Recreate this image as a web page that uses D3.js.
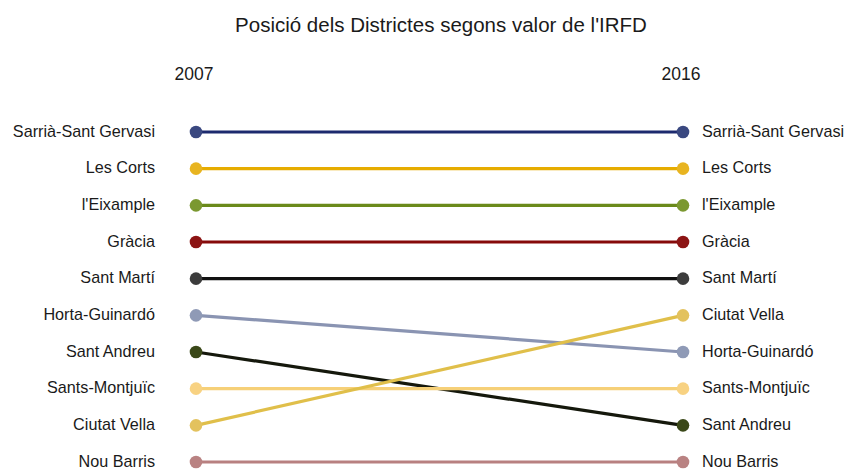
<!DOCTYPE html>
<html><head><meta charset="utf-8">
<script src="https://cdn.jsdelivr.net/npm/d3@7/dist/d3.min.js"></script>
<style>body{margin:0;background:#fff}svg{display:block}text{font-family:"Liberation Sans",Arial,sans-serif;fill:#1a1a1a}</style>
</head><body><svg id="c" width="845" height="470"></svg>
<script>
const districts = ["Sarrià-Sant Gervasi","Les Corts","l'Eixample","Gràcia","Sant Martí","Horta-Guinardó","Sant Andreu","Sants-Montjuïc","Ciutat Vella","Nou Barris"];
const rank2007 = [1,2,3,4,5,6,7,8,9,10];
const rank2016 = [1,2,3,4,5,7,9,8,6,10];
const years = ["2007","2016"];
const lineColors = ["#1c2a6e","#e6ac00","#6a8a1a","#860a0a","#111111","#8a94b2","#15180c","#f6d078","#e0bf4a","#b88080"];
const dotColors  = ["#3a4880","#e8b420","#7b9830","#8c1414","#3c3c3c","#8f9ab6","#3a4818","#f8d282","#e3c25e","#b98282"];

const svg = d3.select("#c");
const x = d3.scalePoint().domain(years).range([196,683]);
const y = d3.scaleLinear().domain([1,10]).range([132,462]);

svg.append("text").attr("x",441).attr("y",32).attr("text-anchor","middle").style("font-size","20.5px").text("Posició dels Districtes segons valor de l'IRFD");
years.forEach(yr=>svg.append("text").attr("x",x(yr)-2).attr("y",80).attr("text-anchor","middle").style("font-size","17.5px").text(yr));

const data = districts.map((d,i)=>({name:d,r1:rank2007[i],r2:rank2016[i],lc:lineColors[i],dc:dotColors[i]}));
const g = svg.append("g");
g.selectAll("line").data(data).join("line")
 .attr("x1",x("2007")).attr("x2",x("2016"))
 .attr("y1",d=>y(d.r1)).attr("y2",d=>y(d.r2))
 .attr("stroke",d=>d.lc).attr("stroke-width",3.2);
g.selectAll("circle.a").data(data).join("circle").attr("class","a")
 .attr("cx",x("2007")).attr("cy",d=>y(d.r1)).attr("r",6.3).attr("fill",d=>d.dc);
g.selectAll("circle.b").data(data).join("circle").attr("class","b")
 .attr("cx",x("2016")).attr("cy",d=>y(d.r2)).attr("r",6.3).attr("fill",d=>d.dc);
g.selectAll("text.l").data(data).join("text").attr("class","l")
 .attr("x",155).attr("y",d=>y(d.r1)+4.5).attr("text-anchor","end").style("font-size","16.2px").text(d=>d.name);
g.selectAll("text.r").data(data).join("text").attr("class","r")
 .attr("x",702).attr("y",d=>y(d.r2)+4.5).style("font-size","16.2px").text(d=>d.name);
</script></body></html>
